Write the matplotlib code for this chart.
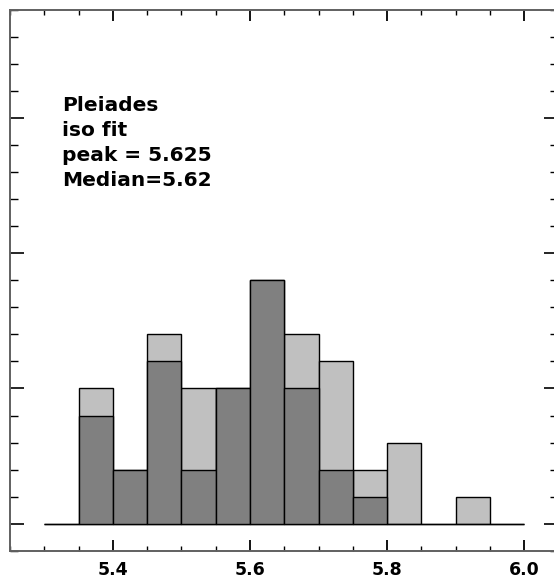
import matplotlib
matplotlib.use("Agg")
import matplotlib.pyplot as plt
from matplotlib.ticker import MultipleLocator, FixedLocator

# ---- data ----
bin_left = [5.30, 5.35, 5.40, 5.45, 5.50, 5.55, 5.60, 5.65, 5.70, 5.75, 5.80, 5.85, 5.90, 5.95]
bin_width = 0.05
counts_all = [0, 5, 2, 7, 5, 5, 9, 7, 6, 2, 3, 0, 1, 0]     # light grey histogram
counts_sub = [0, 4, 2, 6, 2, 5, 9, 5, 2, 1, 0, 0, 0, 0]     # dark grey histogram
x_major = [5.4, 5.6, 5.8, 6.0]
x_labels = ["5.4", "5.6", "5.8", "6.0"]
annot_lines = ["Pleiades", "iso fit", "peak = 5.625", "Median=5.62"]

W, H = 554, 581
fig = plt.figure(figsize=(W / 100, H / 100), dpi=100)
left_px, right_px, top_px, bottom_px = 10, 558.5, 10, 550.7
ax = fig.add_axes([left_px / W, (H - bottom_px) / H,
                   (right_px - left_px) / W, (bottom_px - top_px) / H])

ax.bar(bin_left, counts_all, width=bin_width, align="edge",
       color="#c0c0c0", edgecolor="black", linewidth=1.0, zorder=2)
ax.bar(bin_left, counts_sub, width=bin_width, align="edge",
       color="#808080", edgecolor="black", linewidth=1.0, zorder=3)

ax.set_xlim(5.25, 6.05)
ax.set_ylim(-1, 19)

ax.xaxis.set_major_locator(FixedLocator(x_major))
ax.set_xticklabels(x_labels, fontweight="bold")
ax.xaxis.set_minor_locator(MultipleLocator(0.05))
ax.yaxis.set_major_locator(MultipleLocator(5))
ax.yaxis.set_minor_locator(MultipleLocator(1))
ax.set_yticklabels([])

ax.tick_params(axis="x", which="major", direction="in", length=7.7, width=1.3,
               top=True, bottom=True, labelsize=12.5, pad=7.5, color="black")
ax.tick_params(axis="x", which="minor", direction="in", length=3.8, width=1.0,
               top=True, bottom=True, color="black")
ax.tick_params(axis="y", which="major", direction="in", length=10, width=1.2,
               left=True, right=True, labelleft=False, color="black")
ax.tick_params(axis="y", which="minor", direction="in", length=5.8, width=1.0,
               left=True, right=True, color="black")

for s in ax.spines.values():
    s.set_color("#606060")
    s.set_linewidth(1.4)
ax.spines["right"].set_visible(False)

for i, line in enumerate(annot_lines):
    fig.text(62 / W, 1 - (111 + 25 * i) / H, line, fontsize=14.5,
             fontweight="bold", ha="left", va="baseline", family="DejaVu Sans")

fig.savefig("out.png", dpi=100)
